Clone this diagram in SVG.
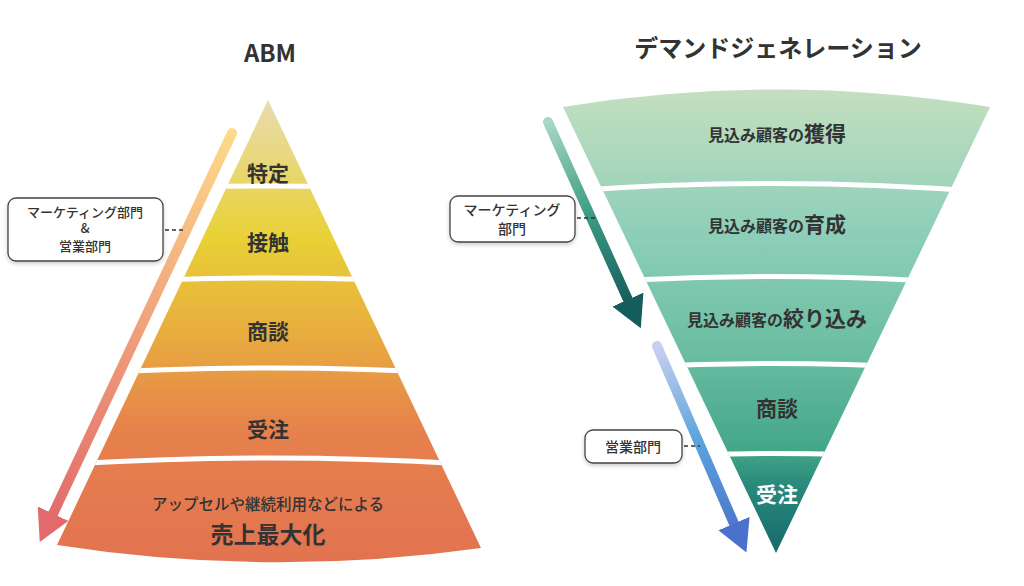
<svg xmlns="http://www.w3.org/2000/svg" width="1024" height="586" viewBox="0 0 1024 586">
<style>
text{font-family:"Noto Sans CJK JP","Noto Sans",sans-serif;fill:#333;text-anchor:middle}
.b{font-weight:bold}
.m{font-weight:500}
.sep{fill:none;stroke:#fff;stroke-width:5}
.box{fill:#fff;stroke:#444;stroke-width:1.3;filter:url(#sh)}
.dash{stroke:#333;stroke-width:1.3;stroke-dasharray:4 3}
</style>
<defs>
<filter id="sh" x="-10%" y="-20%" width="130%" height="160%"><feDropShadow dx="0" dy="2" stdDeviation="2" flood-opacity="0.2"/></filter>
<linearGradient id="gp" x1="0" y1="100" x2="0" y2="560" gradientUnits="userSpaceOnUse">
<stop offset="0" stop-color="#e9dcb0"/><stop offset="0.3" stop-color="#e8d135"/><stop offset="0.5" stop-color="#e8ae3e"/><stop offset="0.72" stop-color="#e6814c"/><stop offset="1" stop-color="#e27350"/></linearGradient>
<linearGradient id="gf" x1="0" y1="90" x2="0" y2="553" gradientUnits="userSpaceOnUse">
<stop offset="0" stop-color="#c4dfbf"/><stop offset="0.3" stop-color="#8fcfba"/><stop offset="0.55" stop-color="#6dbfa4"/><stop offset="0.78" stop-color="#43a689"/><stop offset="0.85" stop-color="#2a8a7c"/><stop offset="1" stop-color="#176a6e"/></linearGradient>
<linearGradient id="ga1" x1="232" y1="133" x2="50" y2="520" gradientUnits="userSpaceOnUse"><stop offset="0" stop-color="#fdd98a"/><stop offset="1" stop-color="#e26a6c"/></linearGradient>
<linearGradient id="ga2" x1="548" y1="122" x2="630" y2="305" gradientUnits="userSpaceOnUse"><stop offset="0" stop-color="#a6d8c4"/><stop offset="0.5" stop-color="#3d9c84"/><stop offset="1" stop-color="#155c5c"/></linearGradient>
<linearGradient id="ga3" x1="657" y1="346" x2="740" y2="535" gradientUnits="userSpaceOnUse"><stop offset="0" stop-color="#c8d0f0"/><stop offset="0.5" stop-color="#5aa4dc"/><stop offset="1" stop-color="#4a72cc"/></linearGradient>
<marker id="m1" markerUnits="userSpaceOnUse" markerWidth="34" markerHeight="34" refX="2" refY="13" orient="auto" viewBox="0 0 26 26"><path d="M0,0 L24,13 L0,26 Z" fill="#e26a6c"/></marker>
<marker id="m2" markerUnits="userSpaceOnUse" markerWidth="34" markerHeight="34" refX="2" refY="13" orient="auto" viewBox="0 0 26 26"><path d="M0,0 L24,13 L0,26 Z" fill="#155c5c"/></marker>
<marker id="m3" markerUnits="userSpaceOnUse" markerWidth="34" markerHeight="34" refX="2" refY="13" orient="auto" viewBox="0 0 26 26"><path d="M0,0 L24,13 L0,26 Z" fill="#4a72cc"/></marker>
<clipPath id="cp"><path d="M268,100 L481,548 Q268,578 57,545 Z"/></clipPath>
<clipPath id="cf"><path d="M563,107 Q776,72 990,107 L776,553 Z"/></clipPath>
</defs>
<rect width="1024" height="586" fill="#fff"/>
<text x="270" y="62" class="b" font-size="24">ABM</text>
<text x="778" y="57" class="b" font-size="24">デマンドジェネレーション</text>
<g id="pyramid">
<path d="M268,100 L481,548 Q268,578 57,545 Z" fill="url(#gp)"/>
<g clip-path="url(#cp)">
<path class="sep" d="M40,194 Q268,178 500,194"/>
<path class="sep" d="M40,286 Q268,270 500,286"/>
<path class="sep" d="M40,376 Q268,360 500,376"/>
<path class="sep" d="M40,466 Q268,450 500,466"/>
</g>
<text x="268" y="181" class="b" font-size="21">特定</text>
<text x="268" y="250" class="b" font-size="21">接触</text>
<text x="268" y="339" class="b" font-size="21">商談</text>
<text x="268" y="437" class="b" font-size="21">受注</text>
<text x="268" y="510" class="m" font-size="15.5">アップセルや継続利用などによる</text>
<text x="268" y="543" class="b" font-size="23">売上最大化</text>
</g>
<g id="funnel">
<path d="M563,107 Q776,72 990,107 L776,553 Z" fill="url(#gf)"/>
<g clip-path="url(#cf)">
<path class="sep" d="M540,193 Q776,174 1000,193"/>
<path class="sep" d="M540,286 Q776,267 1000,286"/>
<path class="sep" d="M540,373 Q776,354 1000,373"/>
<path class="sep" d="M540,463 Q776,444 1000,463"/>
</g>
<text x="777" y="141"><tspan font-size="16" class="b">見込み顧客の</tspan><tspan font-size="21" class="b">獲得</tspan></text>
<text x="777" y="232"><tspan font-size="16" class="b">見込み顧客の</tspan><tspan font-size="21" class="b">育成</tspan></text>
<text x="777" y="326"><tspan font-size="16" class="b">見込み顧客の</tspan><tspan font-size="21" class="b">絞り込み</tspan></text>
<text x="777" y="416" class="b" font-size="21">商談</text>
<text x="777" y="502" class="b" font-size="21" style="fill:#fff">受注</text>
</g>
<g id="connectors">
<line x1="232" y1="133" x2="52" y2="516" stroke="url(#ga1)" stroke-width="10" stroke-linecap="round" marker-end="url(#m1)"/>
<line x1="548" y1="122" x2="629" y2="302" stroke="url(#ga2)" stroke-width="10" stroke-linecap="round" marker-end="url(#m2)"/>
<line x1="657" y1="346" x2="735" y2="526" stroke="url(#ga3)" stroke-width="10" stroke-linecap="round" marker-end="url(#m3)"/>
<line class="dash" x1="165" y1="230" x2="186" y2="230"/>
<line class="dash" x1="577" y1="218" x2="596" y2="218"/>
<line class="dash" x1="684" y1="446" x2="700" y2="446"/>
</g>
<g id="box-abm">
<rect class="box" x="8" y="198" width="155" height="63" rx="8"/>
<text x="85" y="217" class="m" font-size="13">マーケティング部門</text>
<text x="85" y="233" class="m" font-size="13">&amp;</text>
<text x="85" y="251" class="m" font-size="13">営業部門</text>
</g>
<g id="box-mkt">
<rect class="box" x="450" y="196" width="125" height="46" rx="8"/>
<text x="512" y="215" class="m" font-size="14">マーケティング</text>
<text x="512" y="234" class="m" font-size="14">部門</text>
</g>
<g id="box-sales">
<rect class="box" x="585" y="430" width="97" height="33" rx="8"/>
<text x="633" y="452" class="m" font-size="14">営業部門</text>
</g>
</svg>
